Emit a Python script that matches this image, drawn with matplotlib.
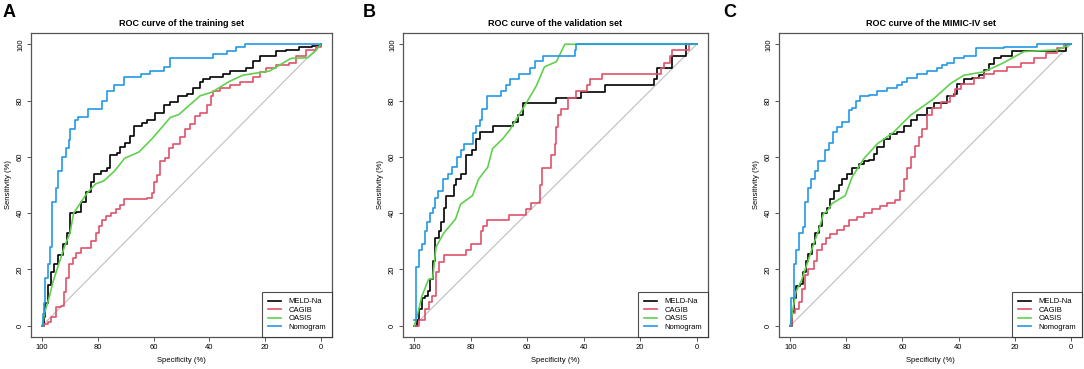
import matplotlib.pyplot as plt

plt.rcParams['font.family'] = ['Liberation Sans', 'DejaVu Sans']

names = ["MELD-Na", "CAGIB", "OASIS", "Nomogram"]
colors = ["#000000", "#DF536B", "#61D04F", "#2297E6"]
titles = ["ROC curve of the training set",
          "ROC curve of the validation set",
          "ROC curve of the MIMIC-IV set"]
letters = ["A", "B", "C"]

# training set: (specificity, sensitivity) vertices
a_meld_x = [100, 99.4, 98.8, 98, 96.8, 95.6, 94.2, 92.6, 91.1, 89.9, 87.9, 86.1, 84.3, 82.5, 81.4, 79, 76.6, 75.7,
            73, 71.9, 70.1, 68.3, 67.1, 64.1, 62.4, 59.4, 56.4, 54, 51.1, 48.1, 45.7, 43.3, 42.2, 39.8, 35, 32.7,
            26.7, 24.3, 22, 16, 12.5, 7.7, 3, 0]
a_meld_y = [0, 3, 8, 14.5, 19, 22, 25, 29, 33, 40, 40.5, 44, 47.5, 51, 54, 55, 56, 60.5,
            61.5, 63.5, 65, 67.5, 71, 72, 73, 75.5, 78.5, 79.5, 81.5, 82.5, 84.5, 86.5, 87.5, 88.5, 89.5, 90.5,
            91.5, 94, 96, 97.5, 98, 99, 99.5, 100]
a_cagib_x = [100, 99.2, 98, 96.8, 95, 93.2, 92, 91.4, 90.3, 89.1, 87.9, 86.1, 82.5, 80.8, 79.6, 78.4, 77.2, 75.4,
             73.6, 71.9, 70.7, 62.4, 60.6, 60, 58.8, 57.6, 55.8, 54.6, 52.9, 50.5, 48.7, 46.9, 45.1, 43.3, 41,
             39.5, 38.6, 36.2, 32.7, 29.1, 24.3, 22, 19.6, 16, 11.3, 8.9, 5.3, 1.8, 0]
a_cagib_y = [0, 0.5, 1.5, 3, 6.5, 7, 12, 17, 22, 24, 26, 27.5, 30, 33, 35.5, 37.5, 39, 40,
             41.5, 43, 45, 45.5, 47, 51, 53.5, 58.5, 59.5, 63, 64.5, 67, 70, 71.5, 74.5, 75.5, 78.5,
             81.5, 83.5, 84.5, 85.5, 86.5, 88.5, 90, 91.5, 92.5, 93.5, 96, 98, 99, 100]
a_oasis_x = [100, 99, 97.5, 96, 94, 92, 90, 88.7, 86, 84, 80.8, 77.8, 74, 70.4, 65.3, 60.6, 54, 51, 43.3, 39,
             33, 28, 18.4, 10.7, 4.8, 2, 0]
a_oasis_y = [0, 5, 10, 16, 22, 28, 33, 40, 44, 47, 50.4, 51.5, 55, 59.5, 61.7, 66.4, 74, 75, 81.7, 83,
             86.7, 89, 90.5, 95, 95.2, 97.5, 100]
a_nomo_x = [100, 99.6, 99.2, 98.8, 98, 97.1, 96.5, 95, 94.2, 92.9, 91.4, 90.5, 90, 88.2, 87, 83.7, 78.4, 76.8,
            74.2, 70.7, 64.7, 61.2, 56.4, 54, 38.6, 33.8, 30.3, 27.3, 0]
a_nomo_y = [0, 4, 8, 17, 22, 28, 44, 49, 55, 60, 63, 66, 70, 73, 74, 77, 80, 83.5,
            85.5, 88.5, 89.5, 90.5, 92, 95, 96.5, 97.5, 99, 100, 100]

# validation set
b_meld_x = [100, 99, 98.2, 97.3, 96.1, 95.1, 94.3, 93.5, 92.5, 91.3, 90.4, 89.5, 88.9, 86, 85.1, 83.6, 81.8,
            79.4, 78, 76.8, 72.3, 65.2, 63.4, 61.6, 49.7, 40.8, 32.5, 15.2, 14, 8.7, 3.9, 0]
b_meld_y = [0, 2, 6, 10, 10.5, 12.5, 16.5, 23, 31, 33.5, 37, 42, 46, 50, 52, 54, 60.5,
            62.5, 66.5, 69, 71, 72.5, 75, 79, 81, 83, 85.5, 87.5, 91.5, 96, 100, 100]
b_cagib_x = [100, 98.5, 96.1, 94.9, 93.7, 92.3, 91.3, 89.5, 81.8, 80, 76.5, 75.6, 74.1, 66.3, 60.4, 58.6, 55.6,
             54.7, 51.5, 50.3, 49.7, 49.1, 47.9, 45.5, 42.6, 39, 37.8, 33.6, 12.8, 11.7, 9.3, 8.7, 2.7, 0]
b_cagib_y = [0, 2, 6, 8.5, 10.5, 19, 22.5, 25, 27, 29, 33.5, 35.5, 37.5, 39.5, 41.5, 43.5, 50,
             56, 60.5, 64.5, 70.5, 75, 77, 81, 83.5, 85.5, 87.5, 89.5, 91.5, 93.5, 96, 98, 100, 100]
b_oasis_x = [100, 99.2, 97.3, 95, 93.5, 92.3, 89.5, 85.4, 83.6, 79.4, 77.3, 74, 72.3, 68.7, 66.3, 61.6, 56.8,
             53.9, 49.7, 46.7, 0]
b_oasis_y = [0, 2.7, 10.5, 16.4, 16.8, 28, 33, 37.9, 43.2, 46.2, 52, 56.3, 62.9, 66.4, 69.4, 77, 85.2,
             92, 93.8, 100, 100]
b_nomo_x = [100, 99.4, 98.5, 97.3, 96.3, 95.5, 94.6, 93.5, 92.7, 91.6, 89.9, 88, 86.6, 84.8, 83.6, 82.4, 79.2,
            78.2, 76.8, 75.9, 74.3, 69.3, 67.5, 66.1, 62.8, 59.2, 57.4, 54.5, 43.2, 42.6, 0]
b_nomo_y = [2, 21, 27, 29, 33.5, 37, 40, 42, 45.5, 48, 52, 54, 56.5, 60, 62.5, 64.5, 68.5,
            71, 73, 77, 81.5, 83.5, 85.5, 87.5, 89.5, 91.5, 94, 96, 98, 100, 100]

# MIMIC-IV set
c_meld_x = [100, 99.4, 98.6, 97.9, 96.4, 95.5, 94.3, 93.5, 92.3, 91.1, 89.9, 88.7, 86.9, 85.7, 84.5, 82.7, 81.5,
            79.8, 78, 75.6, 73.8, 72, 70.2, 69, 66.7, 64.3, 61.9, 59.5, 57.1, 54.8, 51.2, 48.8, 44, 41.7, 40.5,
            38.1, 35.1, 32.7, 31, 29.2, 27.4, 25, 20.8, 1.8, 0]
c_meld_y = [0, 5, 10, 14, 15, 19, 23, 25.5, 29, 33, 35.5, 40, 42, 45, 48, 50, 52,
            54, 56, 57.5, 58.5, 59, 61, 63.5, 66.5, 68, 69, 71, 73, 75, 77.5, 79, 81.5, 82.5, 86,
            87.5, 88, 89, 91, 93, 95, 96, 97.5, 100, 100]
c_cagib_x = [100, 99.4, 98.2, 97, 95.8, 94.6, 93.5, 91.7, 90.5, 88.7, 87.1, 85.7, 83.3, 81, 79.2, 76.2, 73.8,
             70.8, 67.9, 65.5, 62.5, 60.7, 59.5, 58.3, 57.1, 55.4, 54.2, 53, 51.2, 49.4, 46.4, 42.9, 41.1, 39.3,
             34.5, 31, 27.4, 22.6, 17.9, 13.1, 8.9, 4.8, 2.4, 0]
c_cagib_y = [0, 4.5, 6, 8.5, 13, 18, 20, 23, 27, 29, 31, 32.5, 34, 35.5, 37.5, 38.5, 40,
             41.5, 42.5, 43.5, 44.5, 48, 52, 56, 60, 64, 67, 70, 75, 77.5, 79.5, 81.5, 84, 86,
             88, 89.5, 90.5, 92, 93.5, 95, 97, 98.5, 100, 100]
c_oasis_x = [100, 99.2, 98, 96, 94, 92, 89.5, 88.1, 87, 85, 80.4, 78, 73.8, 69, 63.1, 57.1, 48.8, 42.9, 38.1,
             31, 24.4, 16.7, 4.8, 0]
c_oasis_y = [0, 5, 12, 16, 22, 28, 35, 40, 40.5, 43.5, 46.2, 52.7, 59.3, 64.6, 68.8, 74.8, 80.7, 86, 89,
             90.2, 93.2, 97.4, 98, 100]
c_nomo_x = [100, 99.6, 98.8, 97.9, 97, 95.5, 94.6, 93.8, 92.6, 91.3, 90.2, 87.5, 86.3, 84.8, 83.3, 81.5, 79.2,
            78, 76.4, 75, 72, 69, 65.5, 61.9, 60.1, 58.3, 54.8, 51.2, 47.6, 45.8, 44, 41.7, 38.1, 33.9, 23.8,
            11.9, 0]
c_nomo_y = [0, 10, 22, 27, 33, 35, 44, 49, 52, 55, 58.5, 62.5, 65, 69, 70.5, 72.5, 76.5,
            77.5, 80, 81.5, 82, 83.5, 84.5, 85.5, 86.5, 88, 89.5, 90.5, 91.5, 92.5, 93.5, 95, 96, 98.5, 99,
            100, 100]

panels = [
    [(a_meld_x, a_meld_y), (a_cagib_x, a_cagib_y), (a_oasis_x, a_oasis_y), (a_nomo_x, a_nomo_y)],
    [(b_meld_x, b_meld_y), (b_cagib_x, b_cagib_y), (b_oasis_x, b_oasis_y), (b_nomo_x, b_nomo_y)],
    [(c_meld_x, c_meld_y), (c_cagib_x, c_cagib_y), (c_oasis_x, c_oasis_y), (c_nomo_x, c_nomo_y)],
]

W, H = 1084, 369
fig = plt.figure(figsize=(W / 100, H / 100), dpi=100)

# axes boxes in pixels: left, right
boxes = [(31, 332), (403, 708), (779, 1082)]
top, bottom = 33, 337
letter_x = [3, 363, 723]
box_col = "#555555"

for i, curves in enumerate(panels):
    l, r = boxes[i]
    ax = fig.add_axes([l / W, (H - bottom) / H, (r - l) / W, (bottom - top) / H])
    ax.plot([100, 0], [0, 100], color="#BEBEBE", lw=0.8, zorder=1)
    for j, (xs, ys) in enumerate(curves):
        if names[j] == "OASIS":
            ax.plot(xs, ys, color=colors[j], lw=1.2, label=names[j], zorder=2)
        else:
            ax.step(xs, ys, where="post", color=colors[j], lw=1.2, label=names[j], zorder=2)
    ax.set_xlim(104, -4)
    ax.set_ylim(-4, 104)
    ax.set_xticks([100, 80, 60, 40, 20, 0])
    ax.set_yticks([0, 20, 40, 60, 80, 100])
    ax.tick_params(labelsize=5.5, length=3, width=0.7, pad=2, color=box_col)
    for lab in ax.get_yticklabels():
        lab.set_rotation(90)
        lab.set_va("center")
    for s in ax.spines.values():
        s.set_color(box_col)
        s.set_linewidth(0.9)
    ax.set_xlabel("Specificity (%)", fontsize=5.5, labelpad=4)
    ax.set_ylabel("Sensitivity (%)", fontsize=5.5, labelpad=4)
    ax.set_title(titles[i], fontsize=6.5, fontweight="bold", pad=5)
    leg = ax.legend(loc="lower right", fontsize=5.5, borderaxespad=0, fancybox=False,
                    handlelength=1.8, handletextpad=0.9, borderpad=0.8, labelspacing=0.15)
    leg.get_frame().set_edgecolor("#222222")
    leg.get_frame().set_linewidth(0.8)
    fig.text(letter_x[i] / W, 1 - 4 / H, letters[i], fontsize=13, fontweight="bold", va="top", ha="left")

fig.savefig("out.png", dpi=100)
